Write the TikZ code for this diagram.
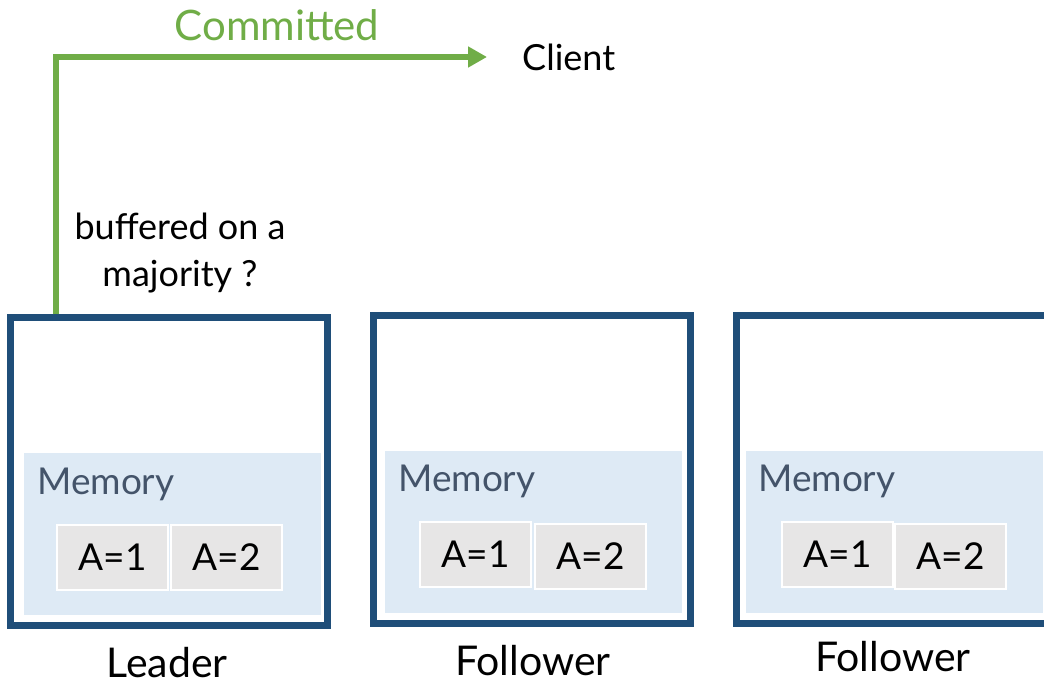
\documentclass[tikz,border=0pt]{standalone}
\usepackage{fontspec}
\setmainfont{Lato}
\usetikzlibrary{arrows.meta}
\definecolor{boxblue}{HTML}{1F4E79}
\definecolor{memfill}{HTML}{DEEAF5}
\definecolor{memtext}{HTML}{44546A}
\definecolor{cellfill}{HTML}{E7E6E6}
\definecolor{okgreen}{HTML}{70AD47}
\begin{document}
\begin{tikzpicture}[x=1pt,y=-1pt,
  serverbox/.style={draw=boxblue,line width=7pt,fill=white,minimum width=317pt,minimum height=308pt,inner sep=0pt},
  memarea/.style={fill=memfill,minimum width=297pt,minimum height=162pt,inner sep=0pt},
  memlabel/.style={text=memtext,font=\fontsize{37}{44}\selectfont,anchor=base west,inner sep=0pt},
  cell/.style={fill=cellfill,draw=white,line width=2pt,minimum width=111pt,minimum height=65pt,inner sep=0pt,font=\fontsize{37}{44}\selectfont},
  rolelabel/.style={font=\fontsize{41}{48}\selectfont,anchor=base,inner sep=0pt},
  commit/.style={draw=okgreen,line width=6.5pt,-{Triangle[length=19pt,width=20pt]}}
]
\useasboundingbox (0,0) rectangle (1044,684);
\clip (0,0) rectangle (1044,684);
% Leader
\node[serverbox] (leader) at (169,471.5) {};
\node[memarea] (mem1) at (172.5,534) {};
\node[memlabel] (mlab1) at (37,494) {Memory};
\node[cell] (l1) at (112.5,557.5) {A=1};
\node[cell] (l2) at (226.5,557.5) {A=2};
\node[rolelabel] (leaderlab) at (167,677) {Leader};
% Follower 1
\node[serverbox] (fol1) at (532,469.5) {};
\node[memarea] (mem2) at (533.5,531.5) {};
\node[memlabel] (mlab2) at (398,491) {Memory};
\node[cell] (f11) at (475.5,554.5) {A=1};
\node[cell] (f12) at (590.5,556.5) {A=2};
\node[rolelabel] (fol1lab) at (533,675) {Follower};
% Follower 2
\node[serverbox] (fol2) at (895,469.5) {};
\node[memarea] (mem3) at (894.5,531.5) {};
\node[memlabel] (mlab3) at (758,491) {Memory};
\node[cell] (f21) at (837.5,554.5) {A=1};
\node[cell] (f22) at (950.5,556.5) {A=2};
\node[rolelabel] (fol2lab) at (893,671) {Follower};
% Client and commit arrow
\node[anchor=west,inner xsep=35pt,inner ysep=0pt,font=\fontsize{36}{44}\selectfont] (client) at (487,57) {Client};
\coordinate (start) at (56,314.5);
\draw[commit] (start) |- (client.west);
\node[text=okgreen,font=\fontsize{42}{48}\selectfont,anchor=base,inner sep=0pt] (committed) at (277,41) {Committed};
\node[align=center,font=\fontsize{36}{47}\selectfont,anchor=base,inner sep=0pt] (buffered) at (180,287) {buffered on a\\majority ?};
\end{tikzpicture}
\end{document}
